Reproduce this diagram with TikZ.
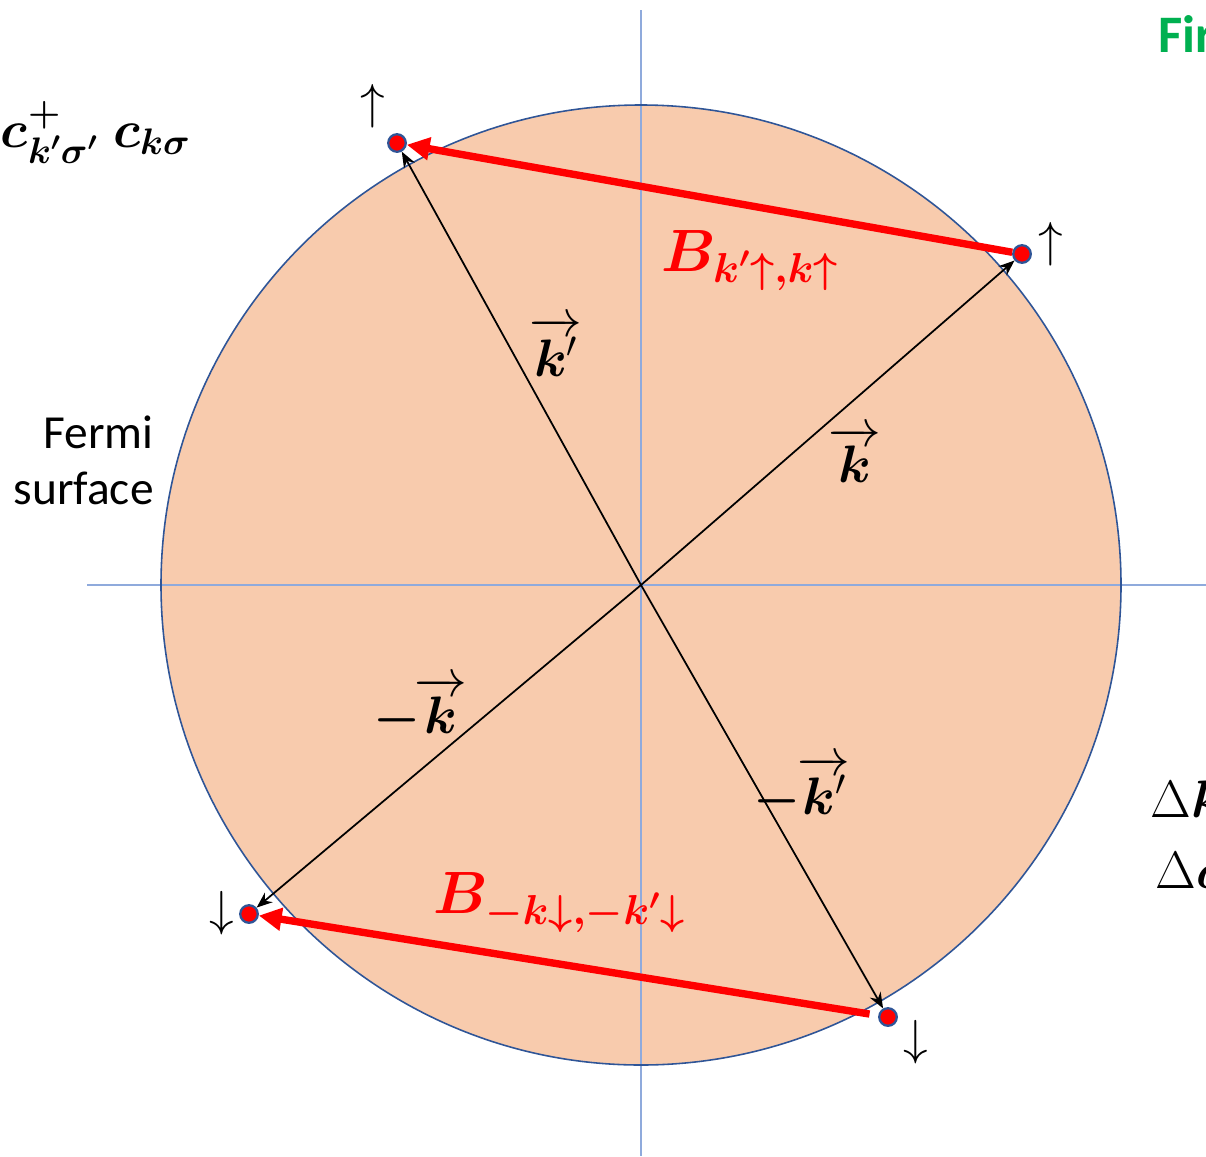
\documentclass[tikz,border=0pt]{standalone}
\usepackage{fix-cm}
\usepackage{amsmath,bm}
\usepackage{fontspec}
\newfontfamily\calibri{Carlito}
\usetikzlibrary{arrows.meta}
\definecolor{peach}{RGB}{248,203,173}
\definecolor{rimblue}{RGB}{47,85,151}
\definecolor{axisblue}{RGB}{143,170,220}
\definecolor{titlegreen}{RGB}{0,176,80}
\tikzset{
  dot/.style={circle,fill=red,draw=rimblue,line width=1.3pt,inner sep=0pt,minimum size=10pt},
  kvec/.style={draw=black,line width=1pt,-{Stealth[length=9pt,width=7pt]}},
  redarrow/.style={draw=red,line width=4.2pt,-{Triangle[length=13pt,width=12.5pt]}},
  spinlbl/.style={font=\fontsize{28}{30}\selectfont,inner sep=0pt},
  veclbl/.style={font=\fontsize{30}{34}\selectfont,inner sep=0pt},
  blbl/.style={text=red,font=\fontsize{34}{38}\selectfont,inner sep=0pt},
}
\begin{document}
\begin{tikzpicture}[x=0.02cm,y=-0.02cm]
\useasboundingbox (0,0) rectangle (1206,1156);
% Fermi sphere
\fill[peach] (641,585) circle (480);
\draw[axisblue,line width=0.7pt] (641,10) -- (641,1156);
\draw[axisblue,line width=0.7pt] (87,585) -- (1206,585);
\draw[rimblue,line width=0.9pt] (641,585) circle (480);
\coordinate (O) at (641,585);
% points on the Fermi surface
\node[dot] (tl) at (397,143) {};
\node[dot] (tr) at (1022,254) {};
\node[dot] (bl) at (249,914) {};
\node[dot] (br) at (888,1017) {};
% wave vectors
\draw[kvec] (O) -- (tl);
\draw[kvec] (O) -- (tr);
\draw[kvec] (O) -- (bl);
\draw[kvec] (O) -- (br);
% scattering arrows
\draw[redarrow] (tr) -- (tl);
\draw[redarrow,shorten <=5pt] (br) -- (bl);
% spin labels
\node[spinlbl] (s1) at (373,106) {$\uparrow$};
\node[spinlbl] (s2) at (1051,244) {$\uparrow$};
\node[spinlbl] (s3) at (222,913) {$\downarrow$};
\node[spinlbl] (s4) at (916,1042) {$\downarrow$};
% vector labels
\node[veclbl] (lkp) at (556,347) {$\overrightarrow{\bm{k}'}$};
\node[veclbl] (lk) at (855,455) {$\overrightarrow{\bm{k}}$};
\node[veclbl] (lmk) at (420,709) {${\bm{-}}\mkern-2mu\overrightarrow{\bm{k}}$};
\node[veclbl] (lmkp) at (802,789) {${\bm{-}}\mkern-1mu\overrightarrow{\bm{k}'}$};
% B labels
\node[blbl,anchor=base west] (B1) at (661,271) {$\bm{B_{k'\uparrow,k\uparrow}}$};
\node[blbl,anchor=base west] (B2) at (433,913) {$\bm{B_{-k\downarrow,-k'\downarrow}}$};
% operator
\node[anchor=base east,inner sep=0pt,font=\fontsize{30}{34}\selectfont] (op) at (191,147) {$\bm{c^{+}_{k'\sigma'}\;c_{k\sigma}}$};
% Fermi surface label
\node[anchor=east,align=right,inner sep=0pt,font=\calibri\fontsize{27}{32}\selectfont] (fs) at (154,460) {Fermi\\surface};
% clipped texts at the right edge
\node[anchor=base west,inner sep=0pt,text=titlegreen,font=\calibri\bfseries\fontsize{30}{34}\selectfont] (title) at (1158,52) {First};
\node[anchor=base west,inner sep=0pt,font=\fontsize{30}{34}\selectfont] (dk) at (1150,817) {$\Delta\bm{k}$};
\node[anchor=base west,inner sep=0pt,font=\fontsize{30}{34}\selectfont] (ds) at (1155,888) {$\Delta\bm{\sigma}$};
\end{tikzpicture}
\end{document}
